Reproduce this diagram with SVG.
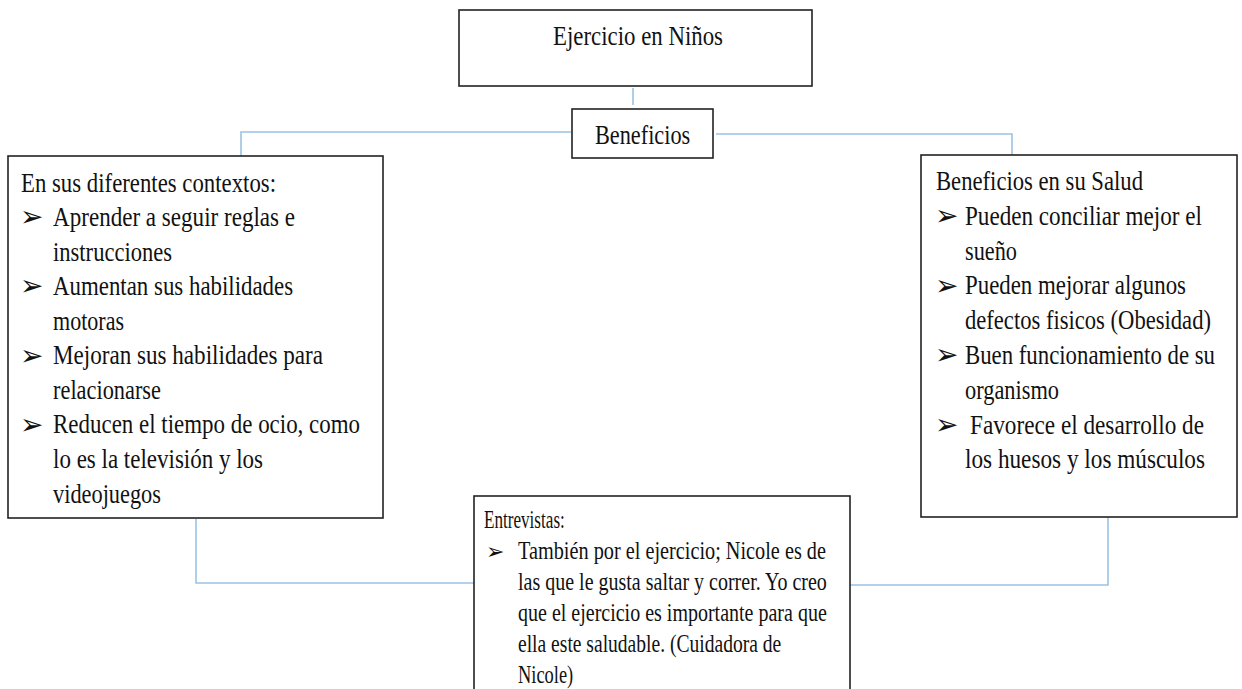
<svg xmlns="http://www.w3.org/2000/svg" width="1242" height="689" viewBox="0 0 1242 689">
<style>
.box{fill:#fff;stroke:#222;stroke-width:1.6}
.t{font-family:"Liberation Serif","Times New Roman","DejaVu Serif",serif;fill:#111;font-size:28px}
.s{font-family:"Liberation Serif","Times New Roman","DejaVu Serif",serif;fill:#111;font-size:25px}
.b{font-family:"DejaVu Sans",sans-serif;fill:#111;font-size:28px}
.bs{font-family:"DejaVu Sans",sans-serif;fill:#111;font-size:22px}
.c{fill:none;stroke:#9cc2e5;stroke-width:1.6}
</style>
<rect width="1242" height="689" fill="#fff"/>
<g id="connectors">
<path class="c" d="M633,88 V105"/>
<path class="c" d="M571,132 H241 V156"/>
<path class="c" d="M716,134 H1012 V155"/>
<path class="c" d="M196,519 V583 H474"/>
<path class="c" d="M1108,517 V585 H850"/>
</g>
<g id="title">
<rect class="box" x="459" y="10" width="353" height="76"/>
<g transform="translate(553,0) scale(0.85,1)">
<text class="t" x="0" y="45" textLength="200" lengthAdjust="spacingAndGlyphs">Ejercicio en Niños</text>
</g>
</g>
<g id="beneficios">
<rect class="box" x="572" y="109" width="141" height="49"/>
<g transform="translate(595,0) scale(0.85,1)">
<text class="t" x="0" y="144" textLength="112" lengthAdjust="spacingAndGlyphs">Beneficios</text>
</g>
</g>
<g id="contextos">
<rect class="box" x="8" y="156" width="375" height="362"/>
<text class="b" x="20" y="226">➢</text>
<text class="b" x="20" y="295">➢</text>
<text class="b" x="20" y="365">➢</text>
<text class="b" x="20" y="434">➢</text>
<g transform="scale(0.85,1)">
<text class="t" x="24.7" y="192" textLength="300" lengthAdjust="spacingAndGlyphs">En sus diferentes contextos:</text>
<text class="t" x="62.4" y="226" textLength="284.7" lengthAdjust="spacingAndGlyphs">Aprender a seguir reglas e</text>
<text class="t" x="62.4" y="261" textLength="140" lengthAdjust="spacingAndGlyphs">instrucciones</text>
<text class="t" x="62.4" y="295" textLength="282.4" lengthAdjust="spacingAndGlyphs">Aumentan sus habilidades</text>
<text class="t" x="62.4" y="330" textLength="83.5" lengthAdjust="spacingAndGlyphs">motoras</text>
<text class="t" x="62.4" y="364" textLength="317.6" lengthAdjust="spacingAndGlyphs">Mejoran sus habilidades para</text>
<text class="t" x="62.4" y="399" textLength="127" lengthAdjust="spacingAndGlyphs">relacionarse</text>
<text class="t" x="62.4" y="433" textLength="361.2" lengthAdjust="spacingAndGlyphs">Reducen el tiempo de ocio, como</text>
<text class="t" x="62.4" y="468" textLength="247" lengthAdjust="spacingAndGlyphs">lo es la televisión y los</text>
<text class="t" x="62.4" y="503" textLength="127" lengthAdjust="spacingAndGlyphs">videojuegos</text>
</g>
</g>
<g id="salud">
<rect class="box" x="921" y="155" width="316" height="362"/>
<text class="b" x="935" y="225">➢</text>
<text class="b" x="935" y="295">➢</text>
<text class="b" x="935" y="364">➢</text>
<text class="b" x="935" y="434">➢</text>
<g transform="translate(936,0) scale(0.85,1)">
<text class="t" x="0" y="190" textLength="243.5" lengthAdjust="spacingAndGlyphs">Beneficios en su Salud</text>
<text class="t" x="34.1" y="225" textLength="278.8" lengthAdjust="spacingAndGlyphs">Pueden conciliar mejor el</text>
<text class="t" x="34.1" y="260" textLength="61.2" lengthAdjust="spacingAndGlyphs">sueño</text>
<text class="t" x="34.1" y="294" textLength="260" lengthAdjust="spacingAndGlyphs">Pueden mejorar algunos</text>
<text class="t" x="34.1" y="329" textLength="289.4" lengthAdjust="spacingAndGlyphs">defectos fisicos (Obesidad)</text>
<text class="t" x="34.1" y="364" textLength="294.1" lengthAdjust="spacingAndGlyphs">Buen funcionamiento de su</text>
<text class="t" x="34.1" y="399" textLength="110.6" lengthAdjust="spacingAndGlyphs">organismo</text>
<text class="t" x="40" y="434" textLength="275.3" lengthAdjust="spacingAndGlyphs">Favorece el desarrollo de</text>
<text class="t" x="34.1" y="468" textLength="282.4" lengthAdjust="spacingAndGlyphs">los huesos y los músculos</text>
</g>
</g>
<g id="entrevistas">
<rect class="box" x="474" y="496" width="376" height="210"/>
<text class="bs" x="486" y="559">➢</text>
<g transform="translate(484,0) scale(0.8,1)">
<text class="s" x="0" y="528" textLength="101" lengthAdjust="spacingAndGlyphs">Entrevistas:</text>
<text class="s" x="42.5" y="559" textLength="385" lengthAdjust="spacingAndGlyphs">También por el ejercicio; Nicole es de</text>
<text class="s" x="42.5" y="590" textLength="386" lengthAdjust="spacingAndGlyphs">las que le gusta saltar y correr. Yo creo</text>
<text class="s" x="42.5" y="621" textLength="386" lengthAdjust="spacingAndGlyphs">que el ejercicio es importante para que</text>
<text class="s" x="42.5" y="652" textLength="329" lengthAdjust="spacingAndGlyphs">ella este saludable.  (Cuidadora de</text>
<text class="s" x="42.5" y="683" textLength="69" lengthAdjust="spacingAndGlyphs">Nicole)</text>
</g>
</g>
</svg>
